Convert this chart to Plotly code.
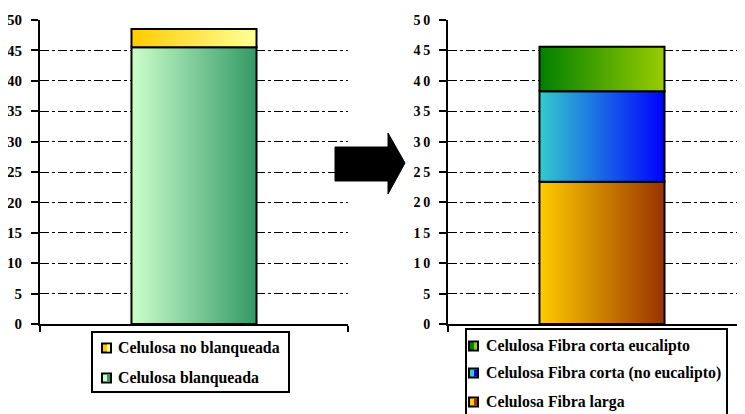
import plotly.graph_objects as go

# ---------------- data ----------------
left_series = ["Celulosa blanqueada", "Celulosa no blanqueada"]
left_values = [45.5, 3.0]
right_series = ["Celulosa Fibra larga", "Celulosa Fibra corta (no eucalipto)", "Celulosa Fibra corta eucalipto"]
right_values = [23.4, 14.9, 7.3]
tick_values = [0, 5, 10, 15, 20, 25, 30, 35, 40, 45, 50]
left_tick_labels = ["0", "5", "10", "15", "20", "25", "30", "35", "40", "45", "50"]
right_tick_labels = ["0", "5", "1\u20090", "1\u20095", "2\u20090", "2\u20095", "3\u20090", "3\u20095", "4\u20090", "4\u20095", "5\u20090"]

# ---------------- styles ----------------
left_grad = [("#CCFFCC", "#339966"), ("#FFCC00", "#FFFF99")]
right_grad = [("#FFCC00", "#993300"), ("#33CCCC", "#0000FF"), ("#008000", "#99CC00")]
SERIF = "Liberation Serif"
OFF = 8                      # the page body margin shifts the figure by 8 px
W, H = 745 - OFF, 414 - OFF
HALF = 0.203


def px(x):
    return (x - OFF) / W


def py(y):
    return (H - (y - OFF)) / H


fig = go.Figure()


def add_stack(names, values, grads, xa, ya):
    base = 0.0
    for name, v, (c0, c1) in zip(names, values, grads):
        top = base + v
        fig.add_trace(go.Scatter(
            x=[-HALF, HALF, HALF, -HALF, -HALF], y=[base, base, top, top, base],
            mode="lines", fill="toself", name=name,
            fillgradient=dict(type="horizontal", colorscale=[[0, c0], [1, c1]]),
            line=dict(color="black", width=2),
            xaxis=xa, yaxis=ya, showlegend=False, hoverinfo="skip"))
        base = top


add_stack(left_series, left_values, left_grad, "x", "y")
add_stack(right_series, right_values, right_grad, "x2", "y2")


def add_legend(names, grads, box, icon_x, rows, text_x):
    x0, y0, x1, y1 = box
    fig.add_shape(type="rect", xref="paper", yref="paper",
                  x0=px(x0), x1=px(x1), y0=py(y1), y1=py(y0),
                  line=dict(color="black", width=2), fillcolor="white", layer="above")
    for name, (c0, c1), yc in zip(reversed(names), reversed(grads), rows):
        fig.add_shape(type="rect", xref="paper", yref="paper",
                      x0=px(icon_x), x1=px(icon_x + 9), y0=py(yc + 4.5), y1=py(yc - 4.5),
                      line=dict(color="black", width=2),
                      fillcolor=c0, layer="above")
        fig.add_shape(type="rect", xref="paper", yref="paper",
                      x0=px(icon_x + 5), x1=px(icon_x + 8), y0=py(yc + 3.5), y1=py(yc - 3.5),
                      line=dict(width=0), fillcolor=c1, layer="above")
        fig.add_annotation(text="<b>" + name + "</b>", xref="paper", yref="paper",
                           x=px(text_x), y=py(yc), xanchor="left", yanchor="middle",
                           showarrow=False, font=dict(family=SERIF, size=15.8, color="black"))


add_legend(left_series, left_grad, (92, 332, 289, 392), 102, [348, 378], 116)
add_legend(right_series, right_grad, (466, 329, 727, 430), 469, [346, 373, 402], 484)

ydom = [py(324), py(20)]
yax = dict(range=[0, 50], tickvals=tick_values, showgrid=True, gridcolor="black", gridwidth=1,
           griddash="dashdot", showline=True, linecolor="black", linewidth=2, ticks="outside",
           ticklen=7, tickwidth=2, tickcolor="black", ticklabelstandoff=6,
           zeroline=False, domain=ydom, fixedrange=True, automargin=False)
xax = dict(showgrid=False, zeroline=False, showline=True, linecolor="black", linewidth=2,
           ticks="outside", tickvals=[-0.5, 0.5], ticktext=["", ""], ticklen=6, tickwidth=2,
           tickcolor="black", fixedrange=True, automargin=False)

fig.update_layout(
    width=W, height=H, margin=dict(l=0, r=0, t=0, b=0, autoexpand=False),
    paper_bgcolor="white", plot_bgcolor="white",
    font=dict(family=SERIF, size=14, color="black"),
    xaxis=dict(xax, domain=[px(40), px(348)], range=[-0.5, 0.5], anchor="y"),
    yaxis=dict(yax, anchor="x", ticktext=[f"<b>{t}</b>" for t in left_tick_labels],
               tickfont=dict(family=SERIF, size=15, color="black")),
    xaxis2=dict(xax, domain=[px(448), 1.0], range=[-0.5, 0.5 - 11 / 308], anchor="y2"),
    yaxis2=dict(yax, anchor="x2", ticktext=[f"<b>{t}</b>" for t in right_tick_labels],
                tickfont=dict(family=SERIF, size=14, color="black")),
    showlegend=False,
)

# block arrow between the two charts
pts = [(335, 147), (388, 147), (388, 133), (405, 163), (388, 194), (388, 181), (335, 181)]
path = "M " + " L ".join(f"{px(x)},{py(y)}" for x, y in pts) + " Z"
fig.add_shape(type="path", path=path, xref="paper", yref="paper",
              fillcolor="black", line=dict(color="black", width=1))

fig.write_html("out.html")
